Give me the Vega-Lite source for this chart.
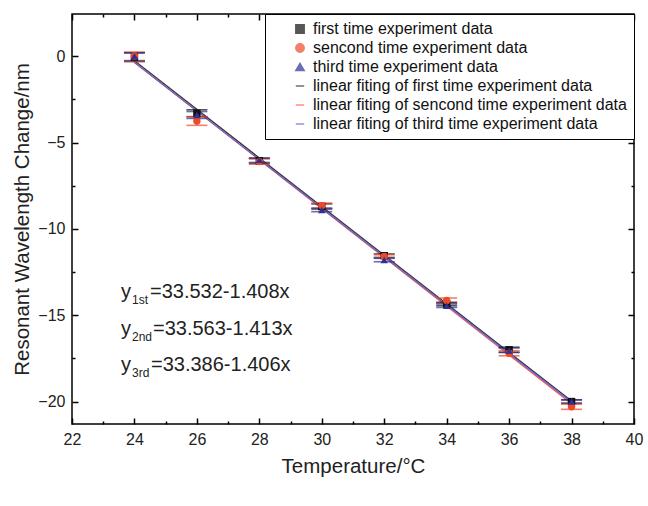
{
  "$schema": "https://vega.github.io/schema/vega-lite/v6.json",
  "width": 562,
  "height": 410,
  "autosize": {"type": "none"},
  "padding": {"left": 72, "top": 14, "right": 14, "bottom": 82},
  "background": "white",
  "config": {
    "font": "Liberation Sans",
    "view": {"stroke": "black", "strokeWidth": 1.5},
    "axis": {
      "domain": false, "zindex": 1,
      "tickColor": "black", "tickWidth": 1.5,
      "grid": false,
      "labelFont": "Liberation Sans", "labelFontSize": 16, "labelColor": "#222",
      "titleFont": "Liberation Sans", "titleFontSize": 20.5, "titleFontWeight": "normal", "titleColor": "#222"
    }
  },
  "title": {"text": "B", "orient": "bottom", "anchor": "start", "dx": -62, "offset": 6, "fontSize": 22, "fontWeight": "bold", "color": "#111", "font": "Liberation Sans"},
  "datasets": {
    "points": [
      {"label": "first time experiment data", "T": 24, "d": -0.05, "lo": -0.3, "hi": 0.2},
      {"label": "first time experiment data", "T": 26, "d": -3.3, "lo": -3.5, "hi": -3.1},
      {"label": "first time experiment data", "T": 28, "d": -6.05, "lo": -6.2, "hi": -5.9},
      {"label": "first time experiment data", "T": 30, "d": -8.7, "lo": -8.85, "hi": -8.55},
      {"label": "first time experiment data", "T": 32, "d": -11.55, "lo": -11.65, "hi": -11.45},
      {"label": "first time experiment data", "T": 34, "d": -14.35, "lo": -14.45, "hi": -14.25},
      {"label": "first time experiment data", "T": 36, "d": -17.0, "lo": -17.15, "hi": -16.85},
      {"label": "first time experiment data", "T": 38, "d": -20.0, "lo": -20.1, "hi": -19.9},
      {"label": "sencond time experiment data", "T": 24, "d": 0.0, "lo": -0.3, "hi": 0.25},
      {"label": "sencond time experiment data", "T": 26, "d": -3.75, "lo": -4.0, "hi": -3.5},
      {"label": "sencond time experiment data", "T": 28, "d": -6.1, "lo": -6.25, "hi": -5.95},
      {"label": "sencond time experiment data", "T": 30, "d": -8.65, "lo": -8.8, "hi": -8.5},
      {"label": "sencond time experiment data", "T": 32, "d": -11.6, "lo": -11.7, "hi": -11.5},
      {"label": "sencond time experiment data", "T": 34, "d": -14.15, "lo": -14.3, "hi": -14.0},
      {"label": "sencond time experiment data", "T": 36, "d": -17.2, "lo": -17.35, "hi": -17.05},
      {"label": "sencond time experiment data", "T": 38, "d": -20.3, "lo": -20.45, "hi": -20.15},
      {"label": "third time experiment data", "T": 24, "d": 0.0, "lo": -0.25, "hi": 0.2},
      {"label": "third time experiment data", "T": 26, "d": -3.4, "lo": -3.6, "hi": -3.2},
      {"label": "third time experiment data", "T": 28, "d": -6.0, "lo": -6.15, "hi": -5.9},
      {"label": "third time experiment data", "T": 30, "d": -8.9, "lo": -9.0, "hi": -8.8},
      {"label": "third time experiment data", "T": 32, "d": -11.8, "lo": -11.9, "hi": -11.7},
      {"label": "third time experiment data", "T": 34, "d": -14.45, "lo": -14.55, "hi": -14.35},
      {"label": "third time experiment data", "T": 36, "d": -17.05, "lo": -17.15, "hi": -16.9},
      {"label": "third time experiment data", "T": 38, "d": -20.0, "lo": -20.1, "hi": -19.9}
    ],
    "fits": [
      {"label": "linear fiting of first time experiment data", "T": 24, "d": -0.26},
      {"label": "linear fiting of first time experiment data", "T": 38, "d": -19.972},
      {"label": "linear fiting of sencond time experiment data", "T": 24, "d": -0.349},
      {"label": "linear fiting of sencond time experiment data", "T": 38, "d": -20.131},
      {"label": "linear fiting of third time experiment data", "T": 24, "d": -0.358},
      {"label": "linear fiting of third time experiment data", "T": 38, "d": -20.042}
    ]
  },
  "resolve": {"axis": {"x": "independent", "y": "independent"}},
  "layer": [
    {
      "data": {"name": "fits"},
      "mark": {"type": "line", "strokeWidth": 1.3},
      "encoding": {
        "x": {"field": "T", "type": "quantitative",
          "scale": {"domain": [22, 40], "nice": false, "zero": false},
          "axis": {"title": "Temperature/°C", "values": [22,24,26,28,30,32,34,36,38,40],
            "tickSize": 6, "offset": -6, "labelPadding": 7, "titlePadding": 9, "labelFlush": false}},
        "y": {"field": "d", "type": "quantitative",
          "scale": {"domain": [-21.3, 2.45], "nice": false, "zero": false},
          "axis": {"title": "Resonant Wavelength Change/nm", "values": [-20, -15, -10, -5, 0],
            "tickSize": 6, "offset": -6, "labelPadding": 7, "titlePadding": 5}},
        "color": {"field": "label", "type": "nominal",
          "scale": {
            "domain": ["first time experiment data", "sencond time experiment data", "third time experiment data", "linear fiting of first time experiment data", "linear fiting of sencond time experiment data", "linear fiting of third time experiment data"],
            "range": ["#111111", "#ee4a2a", "#2e3192", "#333333", "#ff5a50", "#6464d2"]},
          "legend": {"title": null, "orient": "top-right", "offset": 0,
            "strokeColor": "black", "fillColor": "white",
            "padding": 7, "labelFontSize": 16, "labelFont": "Liberation Sans", "labelColor": "#111",
            "symbolOpacity": 1, "symbolStrokeWidth": 1.5, "symbolSize": 70, "symbolOffset": 20, "labelOffset": 5,
            "rowPadding": 3, "labelLimit": 400}}
      }
    },
    {
      "data": {"name": "points"},
      "mark": {"type": "errorbar", "ticks": {"size": 21, "thickness": 1.6}, "thickness": 1.4},
      "encoding": {
        "x": {"field": "T", "type": "quantitative",
          "axis": {"orient": "top", "title": null, "labels": false, "values": [22,24,26,28,30,32,34,36,38,40], "tickSize": 6, "offset": -6}},
        "y": {"field": "lo", "type": "quantitative",
          "axis": {"orient": "right", "title": null, "labels": false, "values": [-20, -15, -10, -5, 0], "tickSize": 6, "offset": -6}},
        "y2": {"field": "hi"},
        "color": {"field": "label", "type": "nominal"}
      }
    },
    {
      "data": {"name": "points"},
      "mark": {"type": "point", "filled": true, "opacity": 1, "size": 55},
      "encoding": {
        "x": {"field": "T", "type": "quantitative",
          "axis": {"orient": "bottom", "title": null, "labels": false, "values": [23,25,27,29,31,33,35,37,39], "tickSize": 3, "offset": -3}},
        "y": {"field": "d", "type": "quantitative",
          "axis": {"orient": "left", "title": null, "labels": false, "values": [-17.5, -12.5, -7.5, -2.5], "tickSize": 3, "offset": -3}},
        "color": {"field": "label", "type": "nominal"},
        "shape": {"field": "label", "type": "nominal",
          "scale": {
            "domain": ["first time experiment data", "sencond time experiment data", "third time experiment data", "linear fiting of first time experiment data", "linear fiting of sencond time experiment data", "linear fiting of third time experiment data"],
            "range": ["square", "circle", "triangle-up", "stroke", "stroke", "stroke"]},
          "legend": {"title": null}}
      }
    },
    {"data": {"values": [{}]},
     "mark": {"type": "text", "align": "left", "baseline": "middle", "fontSize": 20, "color": "#222"},
     "encoding": {
       "x": {"datum": 23.57, "type": "quantitative",
         "axis": {"orient": "top", "title": null, "labels": false, "values": [23,25,27,29,31,33,35,37,39], "tickSize": 3, "offset": -3}},
       "y": {"datum": -13.68, "type": "quantitative",
         "axis": {"orient": "right", "title": null, "labels": false, "values": [-17.5, -12.5, -7.5, -2.5], "tickSize": 3, "offset": -3}},
       "text": {"value": "y"}}},
    {"data": {"values": [{}]},
     "mark": {"type": "text", "align": "left", "baseline": "middle", "fontSize": 12, "color": "#222", "dx": 11, "dy": 8},
     "encoding": {"x": {"datum": 23.57, "type": "quantitative", "axis": null}, "y": {"datum": -13.68, "type": "quantitative", "axis": null}, "text": {"value": "1st"}}},
    {"data": {"values": [{}]},
     "mark": {"type": "text", "align": "left", "baseline": "middle", "fontSize": 20, "color": "#222", "dx": 29},
     "encoding": {"x": {"datum": 23.57, "type": "quantitative", "axis": null}, "y": {"datum": -13.68, "type": "quantitative", "axis": null}, "text": {"value": "=33.532-1.408x"}}},
    {"data": {"values": [{}]},
     "mark": {"type": "text", "align": "left", "baseline": "middle", "fontSize": 20, "color": "#222"},
     "encoding": {"x": {"datum": 23.57, "type": "quantitative", "axis": null}, "y": {"datum": -15.77, "type": "quantitative", "axis": null}, "text": {"value": "y"}}},
    {"data": {"values": [{}]},
     "mark": {"type": "text", "align": "left", "baseline": "middle", "fontSize": 12, "color": "#222", "dx": 11, "dy": 8},
     "encoding": {"x": {"datum": 23.57, "type": "quantitative", "axis": null}, "y": {"datum": -15.77, "type": "quantitative", "axis": null}, "text": {"value": "2nd"}}},
    {"data": {"values": [{}]},
     "mark": {"type": "text", "align": "left", "baseline": "middle", "fontSize": 20, "color": "#222", "dx": 32},
     "encoding": {"x": {"datum": 23.57, "type": "quantitative", "axis": null}, "y": {"datum": -15.77, "type": "quantitative", "axis": null}, "text": {"value": "=33.563-1.413x"}}},
    {"data": {"values": [{}]},
     "mark": {"type": "text", "align": "left", "baseline": "middle", "fontSize": 20, "color": "#222"},
     "encoding": {"x": {"datum": 23.57, "type": "quantitative", "axis": null}, "y": {"datum": -17.86, "type": "quantitative", "axis": null}, "text": {"value": "y"}}},
    {"data": {"values": [{}]},
     "mark": {"type": "text", "align": "left", "baseline": "middle", "fontSize": 12, "color": "#222", "dx": 11, "dy": 8},
     "encoding": {"x": {"datum": 23.57, "type": "quantitative", "axis": null}, "y": {"datum": -17.86, "type": "quantitative", "axis": null}, "text": {"value": "3rd"}}},
    {"data": {"values": [{}]},
     "mark": {"type": "text", "align": "left", "baseline": "middle", "fontSize": 20, "color": "#222", "dx": 30},
     "encoding": {"x": {"datum": 23.57, "type": "quantitative", "axis": null}, "y": {"datum": -17.86, "type": "quantitative", "axis": null}, "text": {"value": "=33.386-1.406x"}}}
  ]
}
